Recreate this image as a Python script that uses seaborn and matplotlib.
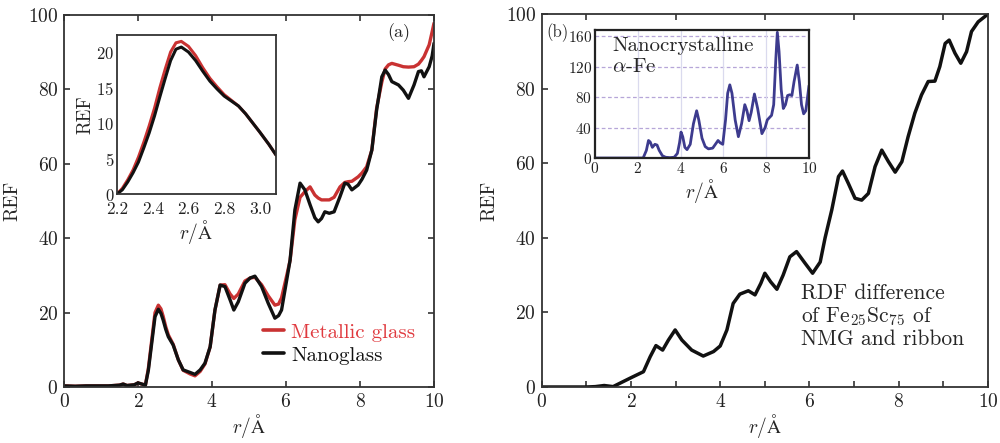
import numpy as np
import pandas as pd
import matplotlib
matplotlib.use("Agg")
import matplotlib.pyplot as plt
import seaborn as sns
from matplotlib.ticker import MultipleLocator, FormatStrFormatter

# ---------------- data ----------------
# panel (a) main
r_a = [0, 0.3, 0.6, 0.9, 1.2, 1.5, 1.6, 1.7, 1.9, 2.0, 2.1, 2.2, 2.28, 2.37, 2.46, 2.55, 2.62, 2.68,
       2.75, 2.82, 2.95, 3.09, 3.22, 3.41, 3.54, 3.68, 3.81, 3.95, 4.08, 4.22, 4.35, 4.49, 4.59,
       4.71, 4.89, 5.03, 5.16, 5.34, 5.52, 5.7, 5.8, 5.88, 6.02, 6.11, 6.24, 6.38, 6.51, 6.65,
       6.78, 6.87, 6.96, 7.05, 7.17, 7.3, 7.46, 7.59, 7.68, 7.78, 7.95, 8.05, 8.18, 8.32, 8.45,
       8.59, 8.68, 8.77, 8.86, 9.04, 9.17, 9.31, 9.46, 9.58, 9.66, 9.73, 9.87, 9.95, 10.0]
nanoglass = [0.3, 0.2, 0.3, 0.3, 0.3, 0.5, 0.8, 0.4, 0.6, 1.1, 0.8, 0.5, 4.5, 11.7, 18.9, 20.9, 19.8, 18,
             15.5, 13.5, 11.3, 7.3, 4.6, 3.9, 3.4, 4.6, 6.4, 10.8, 20.7, 27.4, 27, 23.4, 20.7,
             22.9, 27.9, 29.3, 29.8, 27, 22.5, 18.5, 19.2, 20.7, 28.8, 34.1, 47.6, 54.8, 53, 49,
             45.5, 44.4, 45.3, 47.1, 46.7, 47.1, 51.2, 54.8, 54.5, 53, 54.3, 55.8, 58.3, 63.7, 74.5,
             83.4, 85.2, 84, 82.1, 81.2, 79.8, 77.6, 81.2, 84.8, 85, 83.4, 86.1, 89, 92.4]
metallic = [0.3, 0.2, 0.3, 0.3, 0.3, 0.5, 0.8, 0.4, 0.6, 1.1, 0.8, 0.5, 5, 12.5, 20, 22, 21, 19,
            16.2, 14, 11.5, 7.3, 4.5, 3.5, 3.0, 4.2, 6.2, 10.8, 20.7, 27.4, 27.5, 25, 23.8,
            25, 28.5, 29.3, 29.5, 27.5, 24.5, 22, 22.3, 24, 30, 34, 45, 51, 52.5, 53.8,
            51.6, 50.8, 50.3, 50.3, 50.3, 51, 53.8, 55, 55.2, 55.3, 56.5, 57.5, 59.2, 63.7, 75,
            82, 85.5, 86.6, 87, 86.5, 86.1, 86, 86.1, 86.8, 87.8, 88.8, 92, 95.5, 97.8]

# panel (a) inset
r_ai = [2.2, 2.23, 2.26, 2.29, 2.32, 2.35, 2.38, 2.41, 2.44, 2.47, 2.5, 2.53, 2.56, 2.6, 2.64,
        2.68, 2.72, 2.76, 2.8, 2.84, 2.88, 2.92, 2.96, 3.0, 3.05, 3.09]
nanoglass_i = [0, 0.6, 1.7, 3.0, 4.5, 6.5, 8.6, 11.0, 13.7, 16.3, 18.8, 20.4, 20.7, 20.0, 18.8,
               17.3, 15.9, 14.8, 13.8, 13.1, 12.4, 11.3, 10.0, 8.7, 7.0, 5.5]
metallic_i = [0, 0.8, 2.0, 3.4, 5.2, 7.3, 9.6, 12.1, 15.0, 17.6, 20.0, 21.3, 21.5, 20.8, 19.5,
              17.8, 16.3, 15.1, 14.0, 13.2, 12.4, 11.3, 10.0, 8.7, 7.0, 5.5]

# panel (b) main: RDF difference
r_b = [0, 0.5, 1.0, 1.2, 1.4, 1.6, 1.75, 2.02, 2.28, 2.43, 2.56, 2.71, 2.84, 2.99, 3.14, 3.36,
       3.62, 3.85, 4.0, 4.15, 4.29, 4.44, 4.63, 4.78, 4.91, 5.0, 5.13, 5.27, 5.41, 5.56, 5.71,
       5.9, 6.07, 6.24, 6.35, 6.5, 6.65, 6.74, 6.87, 7.02, 7.17, 7.32, 7.47, 7.62, 7.77, 7.92,
       8.07, 8.21, 8.36, 8.51, 8.66, 8.81, 8.92, 9.04, 9.13, 9.26, 9.39, 9.52, 9.63, 9.78, 9.97, 10.0]
rdf_diff = [0, 0, 0, 0.1, 0.4, 0.1, 1.0, 2.6, 4.1, 8.1, 11.1, 9.9, 12.6, 15.3, 12.6, 9.9,
            8.3, 9.5, 11, 15.3, 22.4, 24.9, 25.8, 24.7, 27.8, 30.5, 28.2, 26.2, 30.0, 34.9, 36.3,
            33.2, 30.5, 33.5, 40, 47.5, 56.4, 57.9, 54.6, 50.6, 50.1, 51.9, 59.1, 63.5, 60.4, 57.6,
            60.4, 67.1, 73.4, 78.3, 81.9, 82, 85.9, 92.1, 93, 89.5, 86.8, 89.9, 95.3, 97.9, 99.7, 100]

# panel (b) inset: nanocrystalline alpha-Fe
r_bi = [0, 1.0, 2.0, 2.25, 2.4, 2.5, 2.58, 2.68, 2.8, 2.9, 3.0, 3.15, 3.3, 3.5, 3.7, 3.85, 3.95,
        4.02, 4.1, 4.2, 4.3, 4.45, 4.6, 4.75, 4.85, 5.0, 5.15, 5.3, 5.5, 5.65, 5.75, 5.85, 5.97,
        6.1, 6.2, 6.3, 6.4, 6.55, 6.7, 6.85, 7.0, 7.1, 7.2, 7.3, 7.45, 7.6, 7.8, 7.95, 8.05, 8.25,
        8.35, 8.45, 8.52, 8.6, 8.7, 8.8, 8.9, 9.0, 9.1, 9.2, 9.3, 9.45, 9.55, 9.65, 9.75, 9.85, 10.0]
fe_rdf = [0, 0, 0, 0, 10, 23, 21, 14, 18, 17, 10, 3, 1, 0.5, 1, 6, 20,
          34, 28, 14, 11, 18, 45, 62, 50, 26, 15, 12, 13, 19, 23, 20, 18,
          50, 85, 96, 85, 50, 28, 45, 70, 62, 49, 60, 84, 65, 32, 40, 50, 56,
          70, 130, 165, 140, 90, 65, 70, 82, 83, 82, 100, 122, 100, 70, 58, 62, 95]

# ---------------- style ----------------
sns.set_style("ticks")
plt.rcParams["font.family"] = ["cmr10", "DejaVu Serif"]
plt.rcParams["mathtext.fontset"] = "cm"
plt.rcParams["axes.formatter.use_mathtext"] = True
plt.rcParams["axes.unicode_minus"] = False
plt.rcParams["lines.solid_joinstyle"] = "round"
plt.rcParams["lines.solid_capstyle"] = "round"

RED = "#c93232"
BLACK = "#111111"
BLUE = "#3d3b8e"
XLAB = r"$r/\mathrm{\AA}$"

fig = plt.figure(figsize=(10, 4.43), dpi=100)


def style_axes(ax, fs):
    for s in ax.spines.values():
        s.set_color("#333333")
        s.set_linewidth(1.3)
    ax.tick_params(direction="in", top=True, right=True, length=4, width=1.1,
                   labelsize=fs, pad=4, colors="#222222", which="both")


# ---- panel (a) ----
axa = fig.add_axes([0.064, 0.1264, 0.370, 0.8397])
sns.lineplot(x=r_a, y=metallic, ax=axa, color=RED, lw=2.4, label="Metallic glass")
sns.lineplot(x=r_a, y=nanoglass, ax=axa, color=BLACK, lw=2.4, label="Nanoglass")
axa.set_xlim(0, 10)
axa.set_ylim(0, 100)
axa.xaxis.set_major_locator(MultipleLocator(2))
axa.yaxis.set_major_locator(MultipleLocator(20))
style_axes(axa, 14)
axa.set_xlabel(XLAB, fontsize=14, labelpad=1)
axa.set_ylabel("REF", fontsize=14, labelpad=5)
leg = axa.legend(loc="lower right", bbox_to_anchor=(1.0, 0.01), frameon=False,
                 fontsize=15, handlelength=1.0, handletextpad=0.35, labelspacing=0.2,
                 labelcolor=["#e03a3f", BLACK])
for h in leg.get_lines():
    h.set_linewidth(2.6)
axa.text(0.905, 0.953, "(a)", transform=axa.transAxes, fontsize=13, ha="center", va="center")

# ---- inset (a) ----
axai = fig.add_axes([0.117, 0.562, 0.159, 0.359])
sns.lineplot(x=r_ai, y=metallic_i, ax=axai, color=RED, lw=2.2, legend=False)
sns.lineplot(x=r_ai, y=nanoglass_i, ax=axai, color=BLACK, lw=2.2, legend=False)
axai.set_xlim(2.2, 3.09)
axai.set_ylim(0, 22.4)
axai.xaxis.set_major_locator(MultipleLocator(0.2))
axai.xaxis.set_major_formatter(FormatStrFormatter("%.1f"))
axai.yaxis.set_major_locator(MultipleLocator(5))
style_axes(axai, 12.5)
axai.tick_params(top=False, right=False, length=0)
axai.tick_params(axis="x", pad=5.5)
axai.tick_params(axis="y", pad=2, labelsize=12)
axai.set_xlabel(XLAB, fontsize=14, labelpad=1)
axai.set_ylabel("REF", fontsize=13.5, labelpad=1)

# ---- panel (b) ----
axb = fig.add_axes([0.5417, 0.1264, 0.4463, 0.842])
sns.lineplot(x=r_b, y=rdf_diff, ax=axb, color=BLACK, lw=2.5, legend=False)
axb.set_xlim(0, 10)
axb.set_ylim(0, 100)
axb.xaxis.set_major_locator(MultipleLocator(2))
axb.xaxis.set_minor_locator(MultipleLocator(1))
axb.yaxis.set_major_locator(MultipleLocator(20))
style_axes(axb, 14)
axb.tick_params(top=False, right=False)
axb.set_xlabel(XLAB, fontsize=14, labelpad=1)
axb.set_ylabel("REF", fontsize=14, labelpad=5)
axb.text(0.58, 0.278, "RDF difference\nof Fe$_{25}$Sc$_{75}$ of\nNMG and ribbon",
         transform=axb.transAxes, fontsize=15.5, ha="left", va="top", linespacing=1.12)

# ---- inset (b) ----
axbi = fig.add_axes([0.595, 0.6433, 0.214, 0.289])
for yv in [40, 80, 120, 160]:
    axbi.axhline(yv, color="#b6a6d8", lw=0.9, ls=(0, (3, 2)), zorder=0)
for xv in [2, 4, 6, 8]:
    axbi.axvline(xv, color="#dadaee", lw=0.9, zorder=0)
sns.lineplot(x=r_bi, y=fe_rdf, ax=axbi, color=BLUE, lw=2.0, legend=False)
axbi.set_xlim(0, 10)
axbi.set_ylim(0, 168)
axbi.xaxis.set_major_locator(MultipleLocator(2))
axbi.yaxis.set_major_locator(MultipleLocator(40))
style_axes(axbi, 11)
axbi.tick_params(top=False, right=False, length=0, pad=2)
for s in axbi.spines.values():
    s.set_color("#222222")
    s.set_linewidth(1.6)
axbi.set_xlabel(XLAB, fontsize=14, labelpad=1)
axbi.text(0.08, 0.79, "Nanocrystalline\n$\\alpha$-Fe", transform=axbi.transAxes,
          fontsize=15, ha="left", va="center", linespacing=1.2)
fig.text(0.557, 0.927, "(b)", fontsize=12, ha="center", va="center")

fig.savefig("out.png", dpi=100)
